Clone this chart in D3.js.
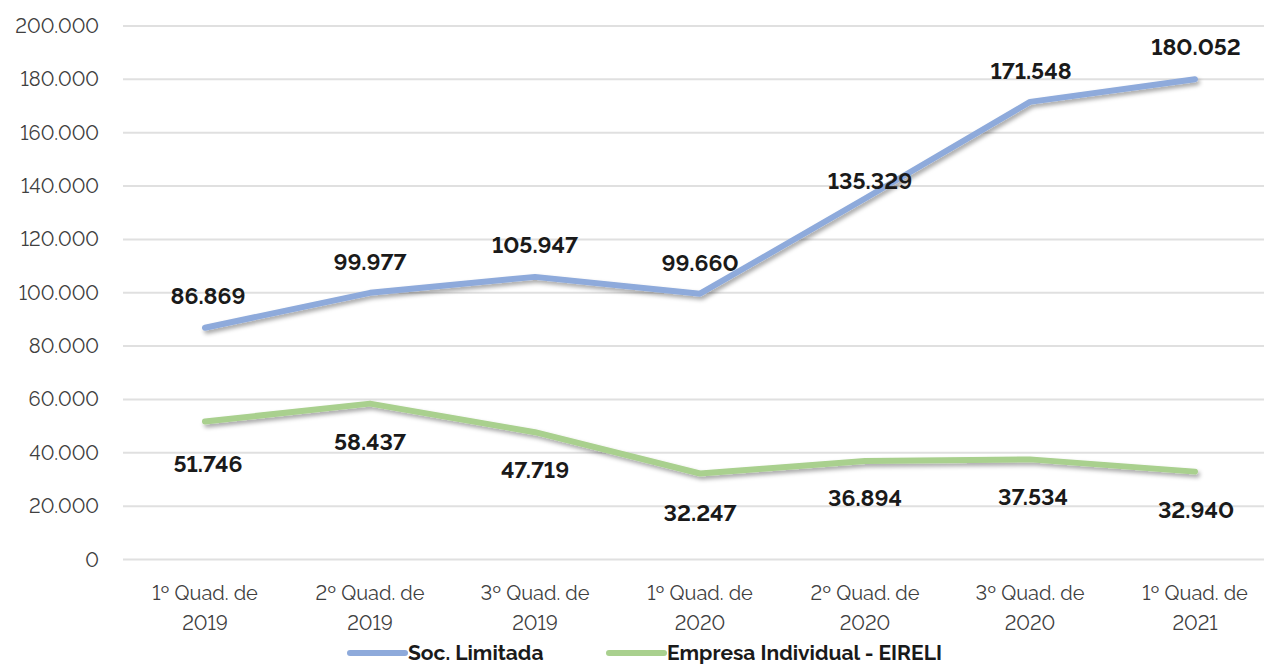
<!DOCTYPE html>
<meta charset="utf-8">
<style>
body { margin: 0; background: #fff; }
svg { display: block; font-family: Raleway, Lato, "Open Sans", sans-serif; font-variant-numeric: lining-nums; font-feature-settings: "lnum" 1; }
.grid line { stroke: #e0e0e0; stroke-width: 2; }
.tick-label { fill: #404040; font-size: 20px; }
.val { fill: #1a1a1a; font-size: 23px; font-weight: bold; text-anchor: middle; }
.leg { fill: #1a1a1a; font-size: 21px; font-weight: bold; }
</style>
<svg width="1264" height="664"></svg>
<script src="https://d3js.org/d3.v7.min.js"></script>
<script>

var categories = ["1º Quad. de 2019", "2º Quad. de 2019", "3º Quad. de 2019", "1º Quad. de 2020",
  "2º Quad. de 2020", "3º Quad. de 2020", "1º Quad. de 2021"];
var socLimitada = [86869, 99977, 105947, 99660, 135329, 171548, 180052];
var eireli = [51746, 58437, 47719, 32247, 36894, 37534, 32940];
var yTicks = [0, 20000, 40000, 60000, 80000, 100000, 120000, 140000, 160000, 180000, 200000];
var seriesNames = ["Soc. Limitada", "Empresa Individual - EIRELI"];

// label offsets (px) relative to the point, Excel put a few by hand
var socNudge = [[3, -32], [0, -31], [0, -32], [0, -31], [5, -18], [1, -31], [1, -32]];
var eirNudge = [[3, 42], [0, 38], [0, 38], [0, 39], [0, 37], [3, 38], [1, 38]];

var svg = d3.select("svg");

var x = d3.scaleBand().domain(categories).range([122.5, 1277.5]);
var y = d3.scaleLinear().domain([0, 200000]).range([559.5, 26]);

function fmt(v) { return d3.format(",")(v).replace(/,/g, "."); }

var defs = svg.append("defs");
var f = defs.append("filter").attr("id", "shadow")
  .attr("x", "-5%").attr("y", "-20%").attr("width", "110%").attr("height", "140%");
f.append("feDropShadow").attr("dx", 2).attr("dy", 3).attr("stdDeviation", 2)
  .attr("flood-color", "#000").attr("flood-opacity", 0.35);

// gridlines
svg.append("g").attr("class", "grid")
  .selectAll("line").data(yTicks).enter().append("line")
  .attr("x1", 123).attr("x2", 1264)
  .attr("y1", function(d) { return y(d); })
  .attr("y2", function(d) { return y(d); });

// y labels
svg.append("g").selectAll("text").data(yTicks).enter().append("text")
  .attr("class", "tick-label")
  .attr("x", 99).attr("y", function(d) { return y(d); })
  .attr("dy", "0.35em").attr("text-anchor", "end")
  .text(function(d) { return fmt(d); });

// x labels, two lines
var xl = svg.append("g").selectAll("text").data(categories).enter().append("text")
  .attr("class", "tick-label").attr("text-anchor", "middle")
  .attr("transform", function(d) { return "translate(" + (x(d) + x.bandwidth() / 2) + ",0)"; });
xl.append("tspan").attr("x", 0).attr("y", 600).text(function(d) { return d.slice(0, d.lastIndexOf(" ")); });
xl.append("tspan").attr("x", 0).attr("y", 630).text(function(d) { return d.slice(d.lastIndexOf(" ") + 1); });

var line = d3.line()
  .x(function(d, i) { return x(categories[i]) + x.bandwidth() / 2; })
  .y(function(d) { return y(d); });

var series = [
  {vals: socLimitada, color: "#8eaadb", nudge: socNudge},
  {vals: eireli, color: "#a9d08e", nudge: eirNudge}
];

series.forEach(function(s) {
  svg.append("path").datum(s.vals)
    .attr("d", line)
    .attr("fill", "none")
    .attr("stroke", s.color)
    .attr("stroke-width", 6)
    .attr("stroke-linecap", "round")
    .attr("stroke-linejoin", "round")
    .attr("filter", "url(#shadow)");
});

series.forEach(function(s) {
  svg.append("g").selectAll("text").data(s.vals).enter().append("text")
    .attr("class", "val")
    .attr("x", function(d, i) { return x(categories[i]) + x.bandwidth() / 2 + s.nudge[i][0]; })
    .attr("y", function(d, i) { return y(d) + s.nudge[i][1]; })
    .attr("dy", "0.35em")
    .text(function(d) { return fmt(d); });
});

// legend
var legX = [348, 607];
var leg = svg.append("g").selectAll("g").data(seriesNames).enter().append("g")
  .attr("transform", function(d, i) { return "translate(" + legX[i] + ",653)"; });
leg.append("line").attr("x1", 2).attr("x2", 57).attr("y1", 0).attr("y2", 0)
  .attr("stroke", function(d, i) { return series[i].color; })
  .attr("stroke-width", 6).attr("stroke-linecap", "round");
leg.append("text").attr("class", "leg").attr("x", 60).attr("dy", "0.35em")
  .text(function(d) { return d; });

</script>
